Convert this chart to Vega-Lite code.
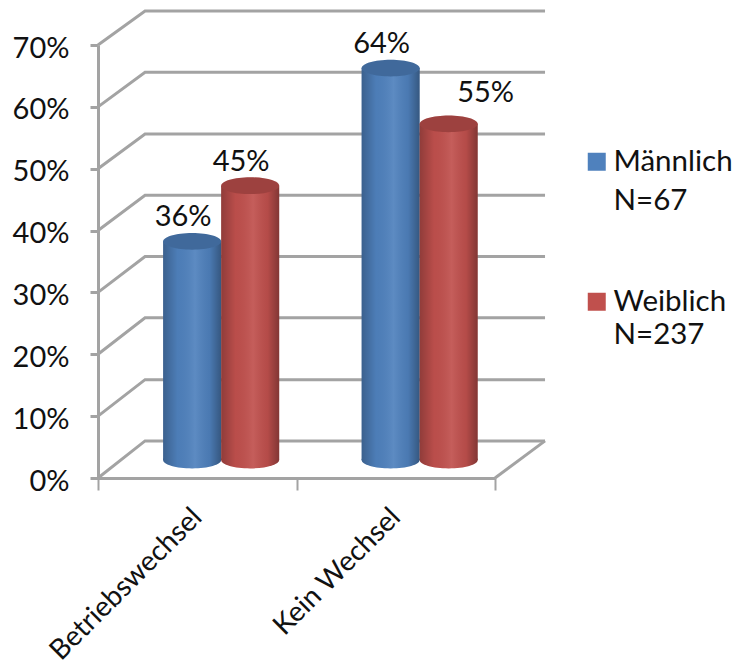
{
  "$schema": "https://vega.github.io/schema/vega-lite/v6.json",
  "width": 397,
  "height": 433,
  "autosize": "none",
  "padding": {"left": 98, "top": 45, "right": 239, "bottom": 191},
  "background": "white",
  "config": {"view": {"stroke": null}, "font": "Lato"},
  "datasets": {
    "bars": [
      {"kategorie": "Betriebswechsel", "gruppe": "Männlich N=67", "anteil": 0.36},
      {"kategorie": "Betriebswechsel", "gruppe": "Weiblich N=237", "anteil": 0.45},
      {"kategorie": "Kein Wechsel", "gruppe": "Männlich N=67", "anteil": 0.64},
      {"kategorie": "Kein Wechsel", "gruppe": "Weiblich N=237", "anteil": 0.55}
    ],
    "raster": [
      {"linie": "0", "tiefe": 0, "stand": 0}, {"linie": "0", "tiefe": 0.237, "stand": 0.06}, {"linie": "0", "tiefe": 2.252, "stand": 0.06},
      {"linie": "rand", "tiefe": 2, "stand": 0}, {"linie": "rand", "tiefe": 2.252, "stand": 0.06},
      {"linie": "10", "tiefe": 0, "stand": 0.1}, {"linie": "10", "tiefe": 0.237, "stand": 0.159}, {"linie": "10", "tiefe": 2.252, "stand": 0.159},
      {"linie": "20", "tiefe": 0, "stand": 0.2}, {"linie": "20", "tiefe": 0.237, "stand": 0.259}, {"linie": "20", "tiefe": 2.252, "stand": 0.259},
      {"linie": "30", "tiefe": 0, "stand": 0.3}, {"linie": "30", "tiefe": 0.237, "stand": 0.358}, {"linie": "30", "tiefe": 2.252, "stand": 0.358},
      {"linie": "40", "tiefe": 0, "stand": 0.4}, {"linie": "40", "tiefe": 0.237, "stand": 0.457}, {"linie": "40", "tiefe": 2.252, "stand": 0.457},
      {"linie": "50", "tiefe": 0, "stand": 0.5}, {"linie": "50", "tiefe": 0.237, "stand": 0.556}, {"linie": "50", "tiefe": 2.252, "stand": 0.556},
      {"linie": "60", "tiefe": 0, "stand": 0.6}, {"linie": "60", "tiefe": 0.237, "stand": 0.656}, {"linie": "60", "tiefe": 2.252, "stand": 0.656},
      {"linie": "70", "tiefe": 0, "stand": 0.7}, {"linie": "70", "tiefe": 0.237, "stand": 0.755}, {"linie": "70", "tiefe": 2.252, "stand": 0.755}
    ]
  },
  "resolve": {"scale": {"x": "independent"}},
  "layer": [
    {
      "data": {"name": "raster"},
      "mark": {"type": "line", "stroke": "#a3a3a3", "strokeWidth": 3, "clip": false},
      "encoding": {
        "x": {"field": "tiefe", "type": "quantitative", "scale": {"domain": [0, 2], "clamp": false, "nice": false}, "axis": null},
        "y": {"field": "stand", "type": "quantitative", "scale": {"domain": [0, 0.7], "nice": false},
          "axis": {"format": ".0%", "values": [0, 0.1, 0.2, 0.3, 0.4, 0.5, 0.6, 0.7], "title": null, "grid": false,
            "domainColor": "#a3a3a3", "domainWidth": 3, "tickColor": "#a3a3a3", "tickWidth": 3, "tickSize": 8,
            "labelFontSize": 29, "labelColor": "#111111", "labelPadding": 21, "labelOffset": 3, "labelFont": "Lato"}},
        "detail": {"field": "linie", "type": "nominal"}
      }
    },
    {
      "data": {"name": "bars"},
      "encoding": {
        "x": {"field": "kategorie", "type": "nominal", "sort": null, "scale": {"paddingInner": 0, "paddingOuter": 0},
          "axis": {"title": null, "labelAngle": -45, "labelAlign": "right", "labelBaseline": "middle", "labelFontSize": 28, "labelColor": "#111111",
            "labelPadding": 23, "labelFont": "Lato", "tickBand": "extent", "tickColor": "#a3a3a3", "tickWidth": 2, "tickSize": 12,
            "domainColor": "#a3a3a3", "domainWidth": 3, "labelLimit": 0}},
        "xOffset": {"field": "gruppe", "type": "nominal", "sort": null, "scale": {"paddingInner": 0, "paddingOuter": 0.71, "align": 0.79}},
        "y": {"field": "anteil", "type": "quantitative"}
      },
      "layer": [
        {
          "mark": {"type": "point", "filled": true, "opacity": 1, "shape": "M-1,0A1,0.29 0 1 1 1,0A1,0.29 0 1 1 -1,0Z", "size": 3364, "yOffset": -18, "clip": false},
          "encoding": {
            "y": {"datum": 0},
            "fill": {"field": "gruppe", "type": "nominal", "sort": null,
              "scale": {"domain": ["Männlich N=67", "Weiblich N=237"], "range": ["#4f81bd", "#c0504d"]},
              "legend": {"title": null, "orient": "none", "legendX": 484, "legendY": 102, "symbolType": "square", "symbolSize": 324, "symbolOpacity": 1, "symbolStrokeWidth": 0,
                "labelFontSize": 29.5, "labelFont": "Lato", "labelColor": "#111111", "labelLimit": 0, "labelOffset": 2, "rowPadding": 70,
                "labelExpr": "split(datum.label, ' ')",
                "labelBaseline": "top",
                "encode": {"labels": {"update": {"lineHeight": {"signal": "indexof(datum.label, 'Männlich') >= 0 ? 39 : 33"}, "dy": {"value": -14}}}}}}
          }
        },
        {
          "mark": {"type": "point", "filled": true, "opacity": 1, "shape": "M-1,0A1,0.29 0 1 1 1,0A1,0.29 0 1 1 -1,0Z", "size": 3364, "yOffset": -18,
            "fill": {"gradient": "linear", "x1": 0, "y1": 0, "x2": 1, "y2": 0, "stops": [
              {"offset": 0, "color": "rgba(0,0,0,0.25)"}, {"offset": 0.25, "color": "rgba(0,0,0,0.03)"}, {"offset": 0.55, "color": "rgba(255,255,255,0.08)"}, {"offset": 0.8, "color": "rgba(0,0,0,0.06)"}, {"offset": 1, "color": "rgba(0,0,0,0.32)"}]}},
          "encoding": {"y": {"datum": 0}}
        },
        {
          "mark": {"type": "bar", "yOffset": -14, "y2Offset": -18},
          "encoding": {
            "y2": {"datum": 0},
            "fill": {"field": "gruppe", "type": "nominal", "sort": null}
          }
        },
        {
          "mark": {"type": "bar", "yOffset": -14, "y2Offset": -18,
            "fill": {"gradient": "linear", "x1": 0, "y1": 0, "x2": 1, "y2": 0, "stops": [
              {"offset": 0, "color": "rgba(0,0,0,0.25)"}, {"offset": 0.25, "color": "rgba(0,0,0,0.03)"}, {"offset": 0.55, "color": "rgba(255,255,255,0.08)"}, {"offset": 0.8, "color": "rgba(0,0,0,0.06)"}, {"offset": 1, "color": "rgba(0,0,0,0.32)"}]}},
          "encoding": {"y2": {"datum": 0}}
        },
        {
          "mark": {"type": "point", "filled": true, "opacity": 1, "shape": "M-1,0A1,0.29 0 1 1 1,0A1,0.29 0 1 1 -1,0Z", "size": 3364, "yOffset": -14, "clip": false},
          "encoding": {"fill": {"field": "gruppe", "type": "nominal", "sort": null}}
        },
        {
          "mark": {"type": "point", "filled": true, "opacity": 0.18, "fill": "#000000", "shape": "M-1,0A1,0.29 0 1 1 1,0A1,0.29 0 1 1 -1,0Z", "size": 3364, "yOffset": -14, "clip": false}
        },
        {
          "transform": [{"filter": "datum.anteil !== 0.55"}],
          "mark": {"type": "text", "fontSize": 29, "font": "Lato", "fill": "#111111", "dx": -9, "yOffset": -38},
          "encoding": {"text": {"field": "anteil", "type": "quantitative", "format": ".0%"}}
        },
        {
          "transform": [{"filter": "datum.anteil === 0.55"}],
          "mark": {"type": "text", "fontSize": 29, "font": "Lato", "fill": "#111111", "dx": 37, "yOffset": -45},
          "encoding": {"text": {"field": "anteil", "type": "quantitative", "format": ".0%"}}
        }
      ]
    }
  ]
}
